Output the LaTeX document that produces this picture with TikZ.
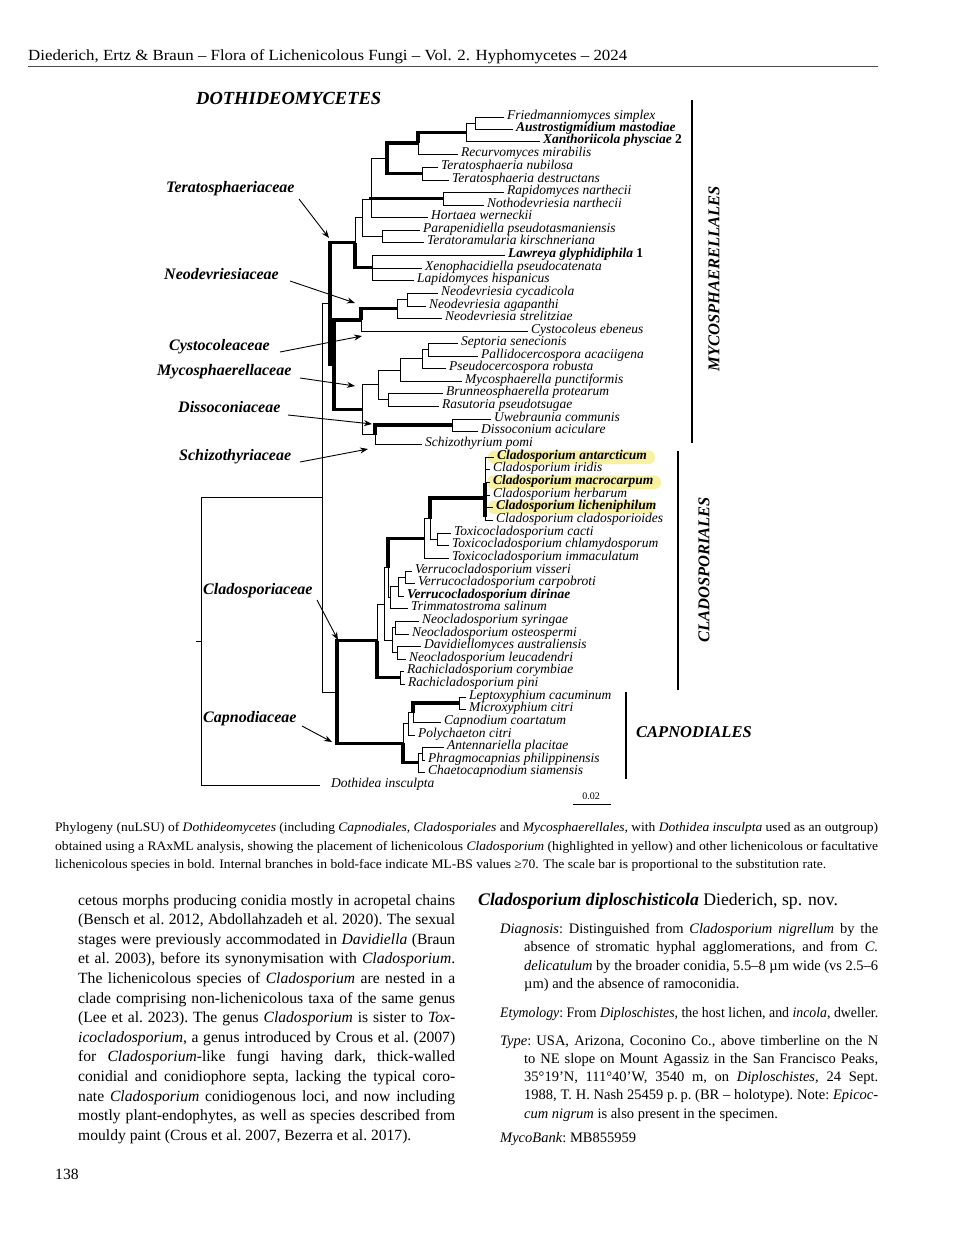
\documentclass[tikz,border=0pt]{standalone}
\usepackage{fontspec}
\usepackage{graphicx}
\setmainfont{Liberation Serif}
\usetikzlibrary{arrows.meta}
\definecolor{hl}{HTML}{F8F1A2}
\newcommand{\bodyfont}{\frenchspacing\fontsize{15.6}{19.6}\selectfont}
\newcommand{\smallbody}{\frenchspacing\fontsize{14.5}{18.3}\selectfont}
\newcommand{\tline}[5]{\node[anchor=base west, inner sep=0pt, font=\bodyfont] (#1) at (#2,#3) {\hbox to #4pt{#5}};}
\newcommand{\fline}[4]{\node[anchor=base west, inner sep=0pt, font=\bodyfont] (#1) at (#2,#3) {#4};}
\newcommand{\rline}[5]{\node[anchor=base west, inner sep=0pt, font=\smallbody] (#1) at (#2,#3) {\hbox to #4pt{#5}};}
\newcommand{\rfline}[4]{\node[anchor=base west, inner sep=0pt, font=\smallbody] (#1) at (#2,#3) {#4};}
\begin{document}
\begin{tikzpicture}[x=1pt,y=-1pt,
  br/.style={line width=0.8pt},
  tk/.style={line width=3.4pt},
  tax/.style={anchor=mid west, inner xsep=3pt, inner ysep=0pt, font=\fontsize{13.5}{14}\selectfont\itshape},
  taxb/.style={anchor=mid west, inner xsep=3pt, inner ysep=0pt, font=\fontsize{13.5}{14}\selectfont\itshape\bfseries},
  fam/.style={anchor=mid west, inner sep=0pt, font=\fontsize{16}{16}\selectfont\bfseries\itshape},
  ord/.style={inner sep=0pt, font=\fontsize{16.5}{17}\selectfont\bfseries\itshape},
  arr/.style={line width=0.9pt, -{Stealth[length=8pt,width=6pt]}},
  bar/.style={line width=1.6pt},
  hlbox/.style={fill=hl, rounded corners=6.5pt}]
\useasboundingbox (0,0) rectangle (960,1234);
\fill[white] (0,0) rectangle (960,1234);

% ---------- header ----------
\node[anchor=base west, inner sep=0pt] (header) at (28,60) {\resizebox{599pt}{\height}{\fontsize{15.5}{16}\selectfont Diederich, Ertz \& Braun – Flora of Lichenicolous Fungi – Vol. 2. Hyphomycetes – 2024}};
\coordinate (ruleA) at (28,66);
\coordinate (ruleB) at (878,66);
\draw[line width=0.8pt, black!70] (ruleA) -- (ruleB);

% ---------- highlights ----------
\fill[hlbox] (488,450.5) rectangle (655,464);
\fill[hlbox] (487,475.5) rectangle (661,489);
\fill[hlbox] (488,500.5) rectangle (655,514);

% ---------- tips ----------
\coordinate (t1) at (504,117);
\coordinate (t2) at (513,129);
\coordinate (t3) at (540,141.5);
\coordinate (t4) at (458,154);
\coordinate (t5) at (438,167);
\coordinate (t6) at (449,180);
\coordinate (t7) at (504,192);
\coordinate (t8) at (484,205);
\coordinate (t9) at (428,217);
\coordinate (t10) at (420,230);
\coordinate (t11) at (424,242);
\coordinate (t12) at (505,255);
\coordinate (t13) at (422,268);
\coordinate (t14) at (414,280);
\coordinate (t15) at (438,293);
\coordinate (t16) at (426,306);
\coordinate (t17) at (442,318);
\coordinate (t18) at (528,331);
\coordinate (t19) at (458,343);
\coordinate (t20) at (478,356);
\coordinate (t21) at (446,368);
\coordinate (t22) at (462,381);
\coordinate (t23) at (443,393);
\coordinate (t24) at (439,406);
\coordinate (t25) at (491,419);
\coordinate (t26) at (478,431);
\coordinate (t27) at (422,444);
\coordinate (t28) at (494,457);
\coordinate (t29) at (490,469);
\coordinate (t30) at (490,482);
\coordinate (t31) at (490,495);
\coordinate (t32) at (493,507);
\coordinate (t33) at (493,520);
\coordinate (t34) at (451,533);
\coordinate (t35) at (449,545);
\coordinate (t36) at (449,558);
\coordinate (t37) at (412,571);
\coordinate (t38) at (415,583);
\coordinate (t39) at (404,596);
\coordinate (t40) at (408,608);
\coordinate (t41) at (419,621);
\coordinate (t42) at (409,634);
\coordinate (t43) at (421,646);
\coordinate (t44) at (406,659);
\coordinate (t45) at (404,671);
\coordinate (t46) at (405,684);
\coordinate (t47) at (466,697);
\coordinate (t48) at (466,709);
\coordinate (t49) at (441,722);
\coordinate (t50) at (415,735);
\coordinate (t51) at (444,747);
\coordinate (t52) at (425,760);
\coordinate (t53) at (425,772);
\coordinate (t54) at (320,785);

% ---------- internal nodes ----------
\coordinate (nA) at (475,123);
\coordinate (nB) at (466,132.3);
\coordinate (nC) at (418,143.1);
\coordinate (nE) at (422,173.5);
\coordinate (nD) at (387,158.3);
\coordinate (nG) at (443,198.5);
\coordinate (nF) at (371,199);
\coordinate (nP) at (382,236);
\coordinate (nJ) at (362,217.5);
\coordinate (nL) at (372,267.5);
\coordinate (nI) at (355,242.5);
\coordinate (nNDb) at (407,299.5);
\coordinate (nND) at (397,308.75);
\coordinate (nN) at (361,319.9);
\coordinate (nSc) at (428,349.5);
\coordinate (nSb) at (422,358.75);
\coordinate (nSa) at (400,369.9);
\coordinate (nBR) at (388,399.5);
\coordinate (nMY) at (378,384.7);
\coordinate (nUD) at (452,425);
\coordinate (nDS) at (375,434.5);
\coordinate (nQ) at (362,409.6);
\coordinate (nM) at (334,364.75);
\coordinate (nT) at (330,303.6);
\coordinate (nCL) at (485,498);
\coordinate (nTC) at (437,539);
\coordinate (nXa) at (430,518.5);
\coordinate (nXo) at (424,538.25);
\coordinate (nVb) at (405,577);
\coordinate (nVa) at (398,586.5);
\coordinate (nVT) at (390,597.25);
\coordinate (nNS) at (395,627.5);
\coordinate (nDN) at (397,652.5);
\coordinate (nNC) at (392,640);
\coordinate (nW) at (388,567.75);
\coordinate (nU) at (384,603.9);
\coordinate (nRA) at (400,677.5);
\coordinate (nCLD) at (377,640.7);
\coordinate (nLM) at (459,703);
\coordinate (nCPa) at (413,712.5);
\coordinate (nCPb) at (408,723.75);
\coordinate (nAPb) at (422,753.5);
\coordinate (nAP) at (418,762.75);
\coordinate (nCP) at (403,743.25);
\coordinate (nRb) at (337,692);
\coordinate (nRa) at (322,497.8);
\coordinate (nRoot) at (201,641.4);
\coordinate (nStub) at (196,641.4);
\coordinate (cLa) at (485,483);
\coordinate (cLb) at (485,517);

% ---------- branches ----------
\draw[br] (nA) |- (t1);  \draw[br] (nA) |- (t2);
\draw[br] (nB) |- (nA);  \draw[br] (nB) |- (t3);
\draw[tk] (nC) |- (nB);  \draw[br] (nC) |- (t4);
\draw[br] (nE) |- (t5);  \draw[br] (nE) |- (t6);
\draw[tk] (nD) |- (nC);  \draw[tk] (nD) |- (nE);
\draw[br] (nG) |- (t7);  \draw[br] (nG) |- (t8);
\draw[br] (nF) |- (nD);  \draw[tk] (nF) |- (nG);  \draw[br] (nF) |- (t9);
\draw[br] (nP) |- (t10); \draw[br] (nP) |- (t11);
\draw[br] (nJ) |- (nF);  \draw[br] (nJ) |- (nP);
\draw[br] (nL) |- (t12); \draw[br] (nL) |- (t13); \draw[br] (nL) |- (t14);
\draw[br] (nI) |- (nJ);  \draw[tk] (nI) |- (nL);
\draw[br] (nNDb) |- (t15); \draw[br] (nNDb) |- (t16);
\draw[br] (nND) |- (nNDb); \draw[br] (nND) |- (t17);
\draw[tk] (nN) |- (nND); \draw[br] (nN) |- (t18);
\draw[br] (nSc) |- (t19); \draw[br] (nSc) |- (t20);
\draw[br] (nSb) |- (nSc); \draw[br] (nSb) |- (t21);
\draw[br] (nSa) |- (nSb); \draw[br] (nSa) |- (t22);
\draw[br] (nBR) |- (t23); \draw[br] (nBR) |- (t24);
\draw[br] (nMY) |- (nSa); \draw[br] (nMY) |- (nBR);
\draw[br] (nUD) |- (t25); \draw[br] (nUD) |- (t26);
\draw[tk] (nDS) |- (nUD); \draw[br] (nDS) |- (t27);
\draw[br] (nQ) |- (nMY); \draw[br] (nQ) |- (nDS);
\draw[tk] (nM) |- (nN); \draw[tk] (nM) |- (nQ);
\draw[tk] (nT) |- (nI); \draw[tk] (nT) |- (nM);
% Cladosporiales
\draw[br] (nCL) |- (t28); \draw[br] (nCL) |- (t29); \draw[br] (nCL) |- (t30);
\draw[br] (nCL) |- (t31); \draw[br] (nCL) |- (t32); \draw[br] (nCL) |- (t33);
\draw[tk] (cLa) -- (cLb);
\draw[br] (nTC) |- (t34); \draw[br] (nTC) |- (t35);
\draw[tk] (nXa) |- (nCL); \draw[br] (nXa) |- (nTC);
\draw[br] (nXo) |- (nXa); \draw[br] (nXo) |- (t36);
\draw[br] (nVb) |- (t37); \draw[br] (nVb) |- (t38);
\draw[br] (nVa) |- (nVb); \draw[br] (nVa) |- (t39);
\draw[br] (nVT) |- (nVa); \draw[br] (nVT) |- (t40);
\draw[br] (nNS) |- (t41); \draw[br] (nNS) |- (t42);
\draw[br] (nDN) |- (t43); \draw[br] (nDN) |- (t44);
\draw[br] (nNC) |- (nNS); \draw[br] (nNC) |- (nDN);
\draw[tk] (nW) |- (nXo); \draw[br] (nW) |- (nVT);
\draw[br] (nU) |- (nW); \draw[br] (nU) |- (nNC);
\draw[br] (nRA) |- (t45); \draw[br] (nRA) |- (t46);
\draw[br] (nCLD) |- (nU); \draw[tk] (nCLD) |- (nRA);
% Capnodiales
\draw[br] (nLM) |- (t47); \draw[br] (nLM) |- (t48);
\draw[tk] (nCPa) |- (nLM); \draw[br] (nCPa) |- (t49);
\draw[br] (nCPb) |- (nCPa); \draw[br] (nCPb) |- (t50);
\draw[br] (nAPb) |- (t51); \draw[br] (nAPb) |- (t52);
\draw[br] (nAP) |- (nAPb); \draw[br] (nAP) |- (t53);
\draw[br] (nCP) |- (nCPb); \draw[tk] (nCP) |- (nAP);
\draw[tk] (nRb) |- (nCLD); \draw[tk] (nRb) |- (nCP);
\draw[br] (nRa) |- (nT); \draw[br] (nRa) |- (nRb);
\draw[br] (nRoot) |- (nRa); \draw[br] (nRoot) |- (t54);
\draw[br] (nStub) -- (nRoot);

% ---------- taxon labels ----------
\node[tax] (l1) at (t1) {Friedmanniomyces simplex};
\node[taxb] (l2) at (t2) {Austrostigmidium mastodiae};
\node[taxb] (l3) at (t3) {Xanthoriicola physciae \textup{2}};
\node[tax] (l4) at (t4) {Recurvomyces mirabilis};
\node[tax] (l5) at (t5) {Teratosphaeria nubilosa};
\node[tax] (l6) at (t6) {Teratosphaeria destructans};
\node[tax] (l7) at (t7) {Rapidomyces narthecii};
\node[tax] (l8) at (t8) {Nothodevriesia narthecii};
\node[tax] (l9) at (t9) {Hortaea werneckii};
\node[tax] (l10) at (t10) {Parapenidiella pseudotasmaniensis};
\node[tax] (l11) at (t11) {Teratoramularia kirschneriana};
\node[taxb] (l12) at (t12) {Lawreya glyphidiphila \textup{1}};
\node[tax] (l13) at (t13) {Xenophacidiella pseudocatenata};
\node[tax] (l14) at (t14) {Lapidomyces hispanicus};
\node[tax] (l15) at (t15) {Neodevriesia cycadicola};
\node[tax] (l16) at (t16) {Neodevriesia agapanthi};
\node[tax] (l17) at (t17) {Neodevriesia strelitziae};
\node[tax] (l18) at (t18) {Cystocoleus ebeneus};
\node[tax] (l19) at (t19) {Septoria senecionis};
\node[tax] (l20) at (t20) {Pallidocercospora acaciigena};
\node[tax] (l21) at (t21) {Pseudocercospora robusta};
\node[tax] (l22) at (t22) {Mycosphaerella punctiformis};
\node[tax] (l23) at (t23) {Brunneosphaerella protearum};
\node[tax] (l24) at (t24) {Rasutoria pseudotsugae};
\node[tax] (l25) at (t25) {Uwebraunia communis};
\node[tax] (l26) at (t26) {Dissoconium aciculare};
\node[tax] (l27) at (t27) {Schizothyrium pomi};
\node[taxb] (l28) at (t28) {Cladosporium antarcticum};
\node[tax] (l29) at (t29) {Cladosporium iridis};
\node[taxb] (l30) at (t30) {Cladosporium macrocarpum};
\node[tax] (l31) at (t31) {Cladosporium herbarum};
\node[taxb] (l32) at (t32) {Cladosporium licheniphilum};
\node[tax] (l33) at (t33) {Cladosporium cladosporioides};
\node[tax] (l34) at (t34) {Toxicocladosporium cacti};
\node[tax] (l35) at (t35) {Toxicocladosporium chlamydosporum};
\node[tax] (l36) at (t36) {Toxicocladosporium immaculatum};
\node[tax] (l37) at (t37) {Verrucocladosporium visseri};
\node[tax] (l38) at (t38) {Verrucocladosporium carpobroti};
\node[taxb] (l39) at (t39) {Verrucocladosporium dirinae};
\node[tax] (l40) at (t40) {Trimmatostroma salinum};
\node[tax] (l41) at (t41) {Neocladosporium syringae};
\node[tax] (l42) at (t42) {Neocladosporium osteospermi};
\node[tax] (l43) at (t43) {Davidiellomyces australiensis};
\node[tax] (l44) at (t44) {Neocladosporium leucadendri};
\node[tax] (l45) at (t45) {Rachicladosporium corymbiae};
\node[tax] (l46) at (t46) {Rachicladosporium pini};
\node[tax] (l47) at (t47) {Leptoxyphium cacuminum};
\node[tax] (l48) at (t48) {Microxyphium citri};
\node[tax] (l49) at (t49) {Capnodium coartatum};
\node[tax] (l50) at (t50) {Polychaeton citri};
\node[tax] (l51) at (t51) {Antennariella placitae};
\node[tax] (l52) at (t52) {Phragmocapnias philippinensis};
\node[tax] (l53) at (t53) {Chaetocapnodium siamensis};
\node[tax, xshift=8pt] (l54) at (t54) {Dothidea insculpta};

% ---------- titles and family labels ----------
\node[anchor=mid west, inner sep=0pt, font=\fontsize{18.5}{19}\selectfont\bfseries\itshape] (dothi) at (196,102) {DOTHIDEOMYCETES};
\node[fam] (fTer) at (166,190) {Teratosphaeriaceae};
\node[fam] (fNeo) at (164,277) {Neodevriesiaceae};
\node[fam] (fCys) at (169,348) {Cystocoleaceae};
\node[fam] (fMyc) at (157,373) {Mycosphaerellaceae};
\node[fam] (fDis) at (178,410) {Dissoconiaceae};
\node[fam] (fSch) at (179,458) {Schizothyriaceae};
\node[fam] (fCla) at (203,592) {Cladosporiaceae};
\node[fam] (fCap) at (203,720) {Capnodiaceae};

\coordinate (aTer1) at (299,199); \coordinate (aTer2) at (329,238);
\coordinate (aNeo1) at (290,281); \coordinate (aNeo2) at (355,303);
\coordinate (aCys1) at (280,352); \coordinate (aCys2) at (362,336);
\coordinate (aMyc1) at (300,378); \coordinate (aMyc2) at (355,386);
\coordinate (aDis1) at (288,415); \coordinate (aDis2) at (372,424);
\coordinate (aSch1) at (300,462); \coordinate (aSch2) at (368,449);
\coordinate (aCla1) at (317,600); \coordinate (aCla2) at (338,640);
\coordinate (aCap1) at (302,726); \coordinate (aCap2) at (332,742);
\draw[arr] (aTer1) -- (aTer2);
\draw[arr] (aNeo1) -- (aNeo2);
\draw[arr] (aCys1) -- (aCys2);
\draw[arr] (aMyc1) -- (aMyc2);
\draw[arr] (aDis1) -- (aDis2);
\draw[arr] (aSch1) -- (aSch2);
\draw[arr] (aCla1) -- (aCla2);
\draw[arr] (aCap1) -- (aCap2);

% ---------- order bars ----------
\coordinate (bM1) at (692,100); \coordinate (bM2) at (692,443);
\coordinate (bC1) at (678,451); \coordinate (bC2) at (678,690);
\coordinate (bP1) at (626,692); \coordinate (bP2) at (626,779);
\draw[bar] (bM1) -- (bM2);
\draw[bar] (bC1) -- (bC2);
\draw[bar] (bP1) -- (bP2);
\node[ord, rotate=90] (oMyc) at (714,279) {MYCOSPHAERELLALES};
\node[ord, rotate=90] (oCla) at (704,570) {CLADOSPORIALES};
\node[ord, anchor=mid west] (oCap) at (636,735) {CAPNODIALES};

% ---------- scale bar ----------
\coordinate (sc1) at (573,804); \coordinate (sc2) at (611,804);
\draw[line width=0.8pt] (sc1) -- (sc2);
\node[inner sep=0pt, font=\fontsize{10}{10}\selectfont] (scl) at (591,796) {0.02};

% ---------- caption ----------
\node[anchor=base west, inner sep=0pt] (cap1) at (55,831) {\resizebox{823pt}{\height}{\fontsize{13}{14}\selectfont Phylogeny (nuLSU) of \textit{Dothideomycetes} (including \textit{Capnodiales}, \textit{Cladosporiales} and \textit{Mycosphaerellales}, with \textit{Dothidea insculpta} used as an outgroup)}};
\node[anchor=base west, inner sep=0pt] (cap2) at (55,850) {\resizebox{823pt}{\height}{\fontsize{13}{14}\selectfont obtained using a RAxML analysis, showing the placement of lichenicolous \textit{Cladosporium} (highlighted in yellow) and other lichenicolous or facultative}};
\node[anchor=base west, inner sep=0pt] (cap3) at (55,868) {\resizebox{771pt}{\height}{\fontsize{13}{14}\selectfont lichenicolous species in bold. Internal branches in bold-face indicate ML-BS values ≥70. The scale bar is proportional to the substitution rate.}};

% ---------- left column ----------
\tline{b1}{78}{905}{377}{cetous morphs producing conidia mostly in acropetal chains}
\tline{b2}{78}{924.6}{377}{(Bensch et al. 2012, Abdollahzadeh et al. 2020). The sexual}
\tline{b3}{78}{944.2}{377}{stages were previously accommodated in \textit{Davidiella} (Braun}
\tline{b4}{78}{963.8}{377}{et al. 2003), before its synonymisation with \textit{Cladosporium}.}
\tline{b5}{78}{983.4}{377}{The lichenicolous species of \textit{Cladosporium} are nested in a}
\tline{b6}{78}{1003}{377}{clade comprising non-lichenicolous taxa of the same genus}
\tline{b7}{78}{1022.6}{377}{(Lee et al. 2023). The genus \textit{Cladosporium} is sister to \textit{Tox-}}
\tline{b8}{78}{1042.2}{377}{\textit{icocladosporium}, a genus introduced by Crous et al. (2007)}
\tline{b9}{78}{1061.8}{377}{for \textit{Cladosporium}-like fungi having dark, thick-walled}
\tline{b10}{78}{1081.4}{377}{conidial and conidiophore septa, lacking the typical coro-}
\tline{b11}{78}{1101}{377}{nate \textit{Cladosporium} conidiogenous loci, and now including}
\tline{b12}{78}{1120.6}{377}{mostly plant-endophytes, as well as species described from}
\fline{b13}{78}{1140.2}{mouldy paint (Crous et al. 2007, Bezerra et al. 2017).}
\fline{pnum}{55}{1179}{138}

% ---------- right column ----------
\node[anchor=base west, inner sep=0pt, font=\fontsize{17.7}{19}\selectfont] (rtitle) at (478,905.5) {\textbf{\textit{Cladosporium diploschisticola}} Diederich, sp. nov.};
\rline{d1}{500}{933.5}{378}{\textit{Diagnosis}: Distinguished from \textit{Cladosporium nigrellum} by the}
\rline{d2}{524}{951.8}{354}{absence of stromatic hyphal agglomerations, and from \textit{C.}}
\rline{d3}{524}{970.1}{354}{\textit{delicatulum} by the broader conidia, 5.5–8 µm wide (vs 2.5–6}
\rfline{d4}{524}{988.4}{µm) and the absence of ramoconidia.}
\node[anchor=base west, inner sep=0pt] (e1) at (500,1017) {\resizebox{378pt}{\height}{\smallbody\textit{Etymology}: From \textit{Diploschistes}, the host lichen, and \textit{incola}, dweller.}};
\rline{y1}{500}{1045}{378}{\textit{Type}: USA, Arizona, Coconino Co., above timberline on the N}
\rline{y2}{524}{1063.3}{354}{to NE slope on Mount Agassiz in the San Francisco Peaks,}
\rline{y3}{524}{1081.6}{354}{35°19’N, 111°40’W, 3540 m, on \textit{Diploschistes}, 24 Sept.}
\rline{y4}{524}{1099.9}{354}{1988, T. H. Nash 25459 p.\,p. (BR – holotype). Note: \textit{Epicoc-}}
\rfline{y5}{524}{1118.2}{\textit{cum nigrum} is also present in the specimen.}
\rfline{mb}{500}{1142}{\textit{MycoBank}: MB855959}
\end{tikzpicture}
\end{document}
